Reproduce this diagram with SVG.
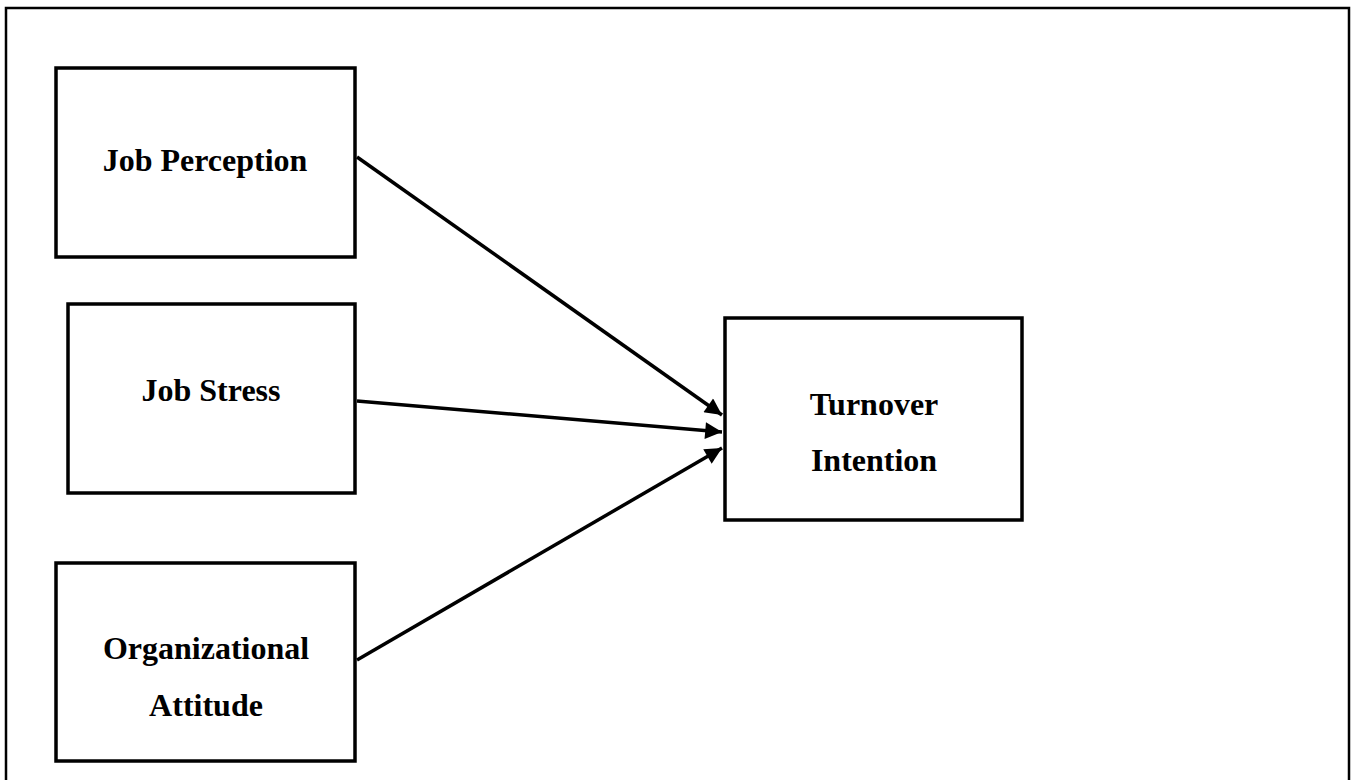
<svg xmlns="http://www.w3.org/2000/svg" width="1352" height="780" viewBox="0 0 1352 780">
<style>
.box{fill:#fff;stroke:#000;stroke-width:3.5}
.lbl{font-family:"Liberation Serif","Times New Roman",serif;font-weight:bold;font-size:32px;fill:#000;text-anchor:middle}
.conn{stroke:#000;stroke-width:3.5;fill:none}
</style>
<defs>
<marker id="ah" viewBox="0 0 10 10" refX="10" refY="5" markerWidth="5.6" markerHeight="4.8" markerUnits="strokeWidth" orient="auto">
<path d="M0,0 L10,5 L0,10 z" fill="#000"/>
</marker>
</defs>
<rect x="0" y="0" width="1352" height="780" fill="#fff"/>
<rect x="6" y="8" width="1343" height="790" fill="none" stroke="#000" stroke-width="2.5"/>
<g id="n1"><rect class="box" x="56" y="68" width="299" height="189"/><text class="lbl" x="205" y="171">Job Perception</text></g>
<g id="n2"><rect class="box" x="68" y="304" width="287" height="189"/><text class="lbl" x="211" y="401">Job Stress</text></g>
<g id="n3"><rect class="box" x="56" y="563" width="299" height="198"/><text class="lbl" x="206" y="659">Organizational</text><text class="lbl" x="206" y="716">Attitude</text></g>
<g id="n4"><rect class="box" x="725" y="318" width="297" height="202"/><text class="lbl" x="874" y="415">Turnover</text><text class="lbl" x="874" y="471">Intention</text></g>
<g id="connectors">
<line class="conn" x1="357" y1="157" x2="722" y2="415" marker-end="url(#ah)"/>
<line class="conn" x1="357" y1="401" x2="722" y2="432" marker-end="url(#ah)"/>
<line class="conn" x1="357" y1="660" x2="722" y2="448" marker-end="url(#ah)"/>
</g>
</svg>
